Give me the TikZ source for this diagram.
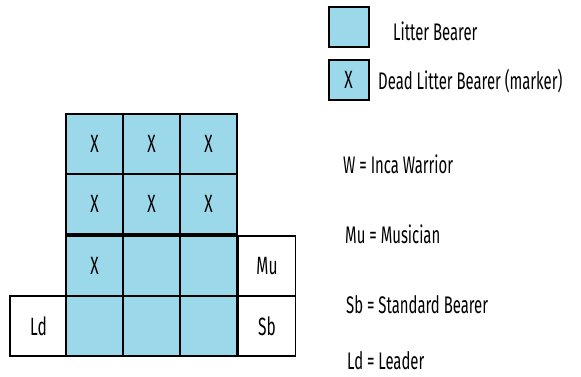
\documentclass[tikz,border=0pt]{standalone}
\usepackage{fontspec}
\setmainfont[FakeStretch=0.62]{Fira Sans}
\definecolor{lb}{RGB}{155,216,234}
\begin{document}
\begin{tikzpicture}[x=1pt,y=1pt,
  cell/.style={draw=black,line width=1.6pt,minimum width=57pt,minimum height=60pt,inner sep=0pt,font=\fontsize{25}{25}\selectfont},
  blue/.style={cell,fill=lb},
  white/.style={cell,fill=white},
  leg/.style={draw=black,line width=2pt,fill=lb,minimum width=40pt,minimum height=40pt,inner sep=0pt,font=\fontsize{25}{25}\selectfont},
  txt/.style={anchor=base west,inner sep=0pt,font=\fontsize{24}{24}\selectfont}]
\useasboundingbox (0,0) rectangle (581,376);
\node[blue] (a1) at (94.5,232) {X};
\node[blue] (a2) at (151.5,232) {X};
\node[blue] (a3) at (208.5,232) {X};
\node[blue] (b1) at (94.5,172) {X};
\node[blue] (b2) at (151.5,172) {X};
\node[blue] (b3) at (208.5,172) {X};
\node[blue] (c1) at (94.5,110) {X};
\node[blue] (c2) at (151.5,110) {};
\node[blue] (c3) at (208.5,110) {};
\node[white] (mu) at (267,110) {Mu};
\node[white] (ld) at (38.5,50) {Ld};
\node[blue] (d1) at (94.5,50) {};
\node[blue] (d2) at (151.5,50) {};
\node[blue] (d3) at (208.5,50) {};
\node[white] (sb) at (267,50) {Sb};
% legend
\node[leg] (l1) at (348.5,349) {};
\node[leg] (l2) at (348.5,296.5) {X};
\node[txt] (t1) at (393,336) {Litter Bearer};
\node[txt] (t2) at (378,287) {Dead Litter Bearer (marker)};
\node[txt] (w) at (343,203) {W = Inca Warrior};
\node[txt] (m) at (345,133) {Mu = Musician};
\node[txt] (s) at (346,63) {Sb = Standard Bearer};
\node[txt] (l) at (347,7) {Ld = Leader};
\end{tikzpicture}
\end{document}
